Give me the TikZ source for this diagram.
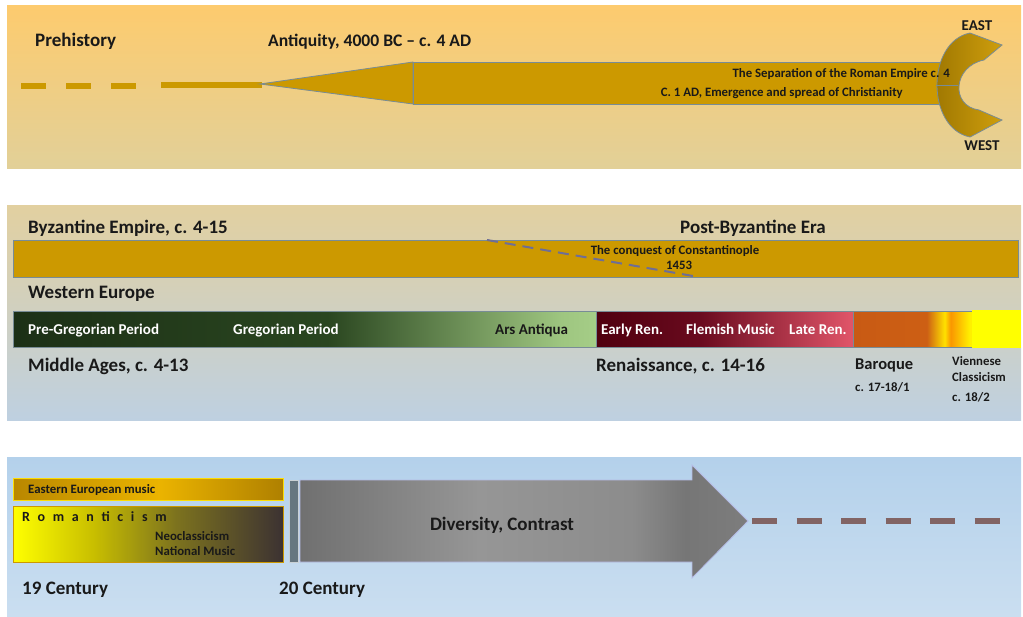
\documentclass[tikz,border=0pt]{standalone}
\usepackage{fontspec}
\setmainfont{Carlito}
\usepackage{tikz}
\usetikzlibrary{calc}
\definecolor{goldbar}{RGB}{204,153,0}
\definecolor{rimgray}{RGB}{120,140,150}
\definecolor{inkdark}{RGB}{25,25,25}
\definecolor{dashbrown}{RGB}{130,100,100}
\definecolor{conqdash}{RGB}{110,110,150}
\definecolor{paneltopa}{RGB}{253,203,110}
\definecolor{panelbota}{RGB}{226,208,152}
\definecolor{paneltopb}{RGB}{226,208,160}
\definecolor{panelbotb}{RGB}{190,208,225}
\definecolor{paneltopc}{RGB}{180,209,235}
\definecolor{panelbotc}{RGB}{202,222,240}
\definecolor{brightyel}{RGB}{255,255,0}
\pgfdeclarehorizontalshading{greenbar}{100bp}{color(0bp)=(rgb,255:red,28;green,48;blue,22); color(25bp)=(rgb,255:red,28;green,48;blue,22); color(52bp)=(rgb,255:red,42;green,70;blue,32); color(72bp)=(rgb,255:red,158;green,198;blue,128); color(75bp)=(rgb,255:red,165;green,205;blue,135); color(100bp)=(rgb,255:red,165;green,205;blue,135)}
\pgfdeclarehorizontalshading{renbar}{100bp}{color(0bp)=(rgb,255:red,80;green,0;blue,15); color(25bp)=(rgb,255:red,80;green,0;blue,15); color(45bp)=(rgb,255:red,105;green,10;blue,30); color(75bp)=(rgb,255:red,225;green,85;blue,105); color(100bp)=(rgb,255:red,225;green,85;blue,105)}
\pgfdeclarehorizontalshading{barobar}{100bp}{color(0bp)=(rgb,255:red,200;green,90;blue,20); color(25bp)=(rgb,255:red,200;green,90;blue,20); color(56bp)=(rgb,255:red,205;green,95;blue,20); color(63.5bp)=(rgb,255:red,255;green,225;blue,0); color(66bp)=(rgb,255:red,250;green,150;blue,0); color(74bp)=(rgb,255:red,255;green,240;blue,0); color(75bp)=(rgb,255:red,255;green,240;blue,0); color(100bp)=(rgb,255:red,255;green,240;blue,0)}
\pgfdeclarehorizontalshading{eastbar}{100bp}{color(0bp)=(rgb,255:red,185;green,135;blue,0); color(25bp)=(rgb,255:red,185;green,135;blue,0); color(52bp)=(rgb,255:red,235;green,180;blue,0); color(75bp)=(rgb,255:red,175;green,128;blue,0); color(100bp)=(rgb,255:red,175;green,128;blue,0)}
\pgfdeclarehorizontalshading{romabar}{100bp}{color(0bp)=(rgb,255:red,255;green,255;blue,0); color(25bp)=(rgb,255:red,255;green,255;blue,0); color(40bp)=(rgb,255:red,200;green,190;blue,0); color(55bp)=(rgb,255:red,125;green,115;blue,30); color(75bp)=(rgb,255:red,60;green,50;blue,50); color(100bp)=(rgb,255:red,60;green,50;blue,50)}
\pgfdeclarehorizontalshading{greyarrow}{100bp}{color(0bp)=(rgb,255:red,112;green,112;blue,112); color(25bp)=(rgb,255:red,112;green,112;blue,112); color(45bp)=(rgb,255:red,150;green,150;blue,150); color(62bp)=(rgb,255:red,140;green,140;blue,140); color(68bp)=(rgb,255:red,118;green,118;blue,118); color(75bp)=(rgb,255:red,125;green,125;blue,125); color(100bp)=(rgb,255:red,125;green,125;blue,125)}

\begin{document}
\begin{tikzpicture}[x=1pt,y=-1pt,
 hd/.style={font=\fontsize{19}{21}\selectfont\bfseries,text=inkdark,inner sep=0pt},
 bt/.style={font=\fontsize{15}{17}\selectfont\bfseries,inner sep=0pt},
 md/.style={font=\fontsize{12.8}{14}\selectfont\bfseries,text=inkdark,inner sep=0pt},
 sm/.style={font=\fontsize{12.8}{14}\selectfont\bfseries,text=inkdark,inner sep=0pt},
 rim/.style={draw=rimgray,line width=.8pt},
 thick dash/.style={line width=6pt,dash pattern=on 25pt off 20pt}]
\useasboundingbox (0,0) rectangle (1023,616);
% three panels
\shade[top color=paneltopa,bottom color=panelbota] (7,5) rectangle (1021,168);
\shade[top color=paneltopb,bottom color=panelbotb] (7,205) rectangle (1021,420);
\shade[top color=paneltopc,bottom color=panelbotc] (7,457) rectangle (1021,616);

% antiquity
\draw[goldbar,thick dash] (21,85.5) -- (140,85.5);
\draw[goldbar,line width=6pt] (161,85) -- (262,85);
\filldraw[fill=goldbar,rim] (260,84) -- (413,62) -- (413,104) -- cycle;
\filldraw[fill=goldbar,rim] (413,62) rectangle (942,104);
\shade[left color=goldbar!75!black,right color=goldbar!95!white,draw=rimgray,line width=.8pt]
 (970,33) -- (1002,45) -- (984,60) .. controls (953,66) and (950,106) .. (979,110)
 -- (1002,120) -- (970,137) .. controls (926,128) and (926,42) .. (970,33) -- cycle;
\draw[rim] (936,85) -- (958,85);
\node[hd,anchor=base west] (prehist) at (35,46) {Prehistory};
\node[hd,font=\fontsize{17.6}{20}\selectfont\bfseries,anchor=base west] (antiq) at (268,46) {Antiquity, 4000 BC -- c. 4 AD};
\node[md,anchor=base east] (sep) at (950,77.5) {The Separation of the Roman Empire c. 4};
\node[md,anchor=base east] (christ) at (903,96.5) {C. 1 AD, Emergence and spread of Christianity};
\node[bt,text=inkdark,anchor=base] (east) at (977,30) {EAST};
\node[bt,text=inkdark,anchor=base] (west) at (982,150) {WEST};

% middle ages to classicism
\filldraw[fill=goldbar,rim] (13,240) rectangle (1018,277);
\coordinate (cqa) at (487,240);
\coordinate (cqb) at (693,276);
\draw[conqdash,line width=2pt,dash pattern=on 11pt off 7pt] (cqa) -- (cqb);
\node[hd,anchor=base west] (byz) at (28,233) {Byzantine Empire, c. 4-15};
\node[hd,anchor=base] (postbyz) at (753,233) {Post-Byzantine Era};
\node[sm,anchor=base] (conq) at (675,254) {The conquest of Constantinople};
\node[sm,anchor=base] (conqyr) at (679,269.5) {1453};
\node[hd,anchor=base west] (weur) at (28,298) {Western Europe};
\shade[shading=greenbar] (13,311) rectangle (596,347);
\shade[shading=renbar] (596,311) rectangle (853,347);
\shade[shading=barobar] (853,311) rectangle (972,347);
\draw[rim] (13,311) rectangle (972,347);
\draw[rim] (596,311) -- (596,347) (853,311) -- (853,347);
\fill[brightyel] (972,310) rectangle (1021,348);
\node[bt,text=white,anchor=base west] (pregreg) at (28,334) {Pre-Gregorian Period};
\node[bt,text=white,anchor=base west] (greg) at (233,334) {Gregorian Period};
\node[bt,text=inkdark,anchor=base west] (arsant) at (495,334) {Ars Antiqua};
\node[bt,text=white,anchor=base west] (earlyren) at (601,334) {Early Ren.};
\node[bt,text=white,anchor=base west] (flemish) at (686,334) {Flemish Music};
\node[bt,text=white,anchor=base west] (lateren) at (789,334) {Late Ren.};
\node[hd,anchor=base west] (midages) at (28,371) {Middle Ages, c. 4-13};
\node[hd,anchor=base west] (renais) at (596,371) {Renaissance, c. 14-16};
\node[bt,font=\fontsize{16.5}{18}\selectfont\bfseries,text=inkdark,anchor=base west] (baroque) at (855,369.5) {Baroque};
\node[sm,anchor=base west] (barodate) at (855,391) {c. 17-18/1};
\node[sm,anchor=base west] (vienna) at (952,365) {Viennese};
\node[sm,anchor=base west] (vienclass) at (952,381.5) {Classicism};
\node[sm,anchor=base west] (viendate) at (952,401) {c. 18/2};

% 19th and 20th century
\shade[shading=eastbar,draw=yellow!80!orange,line width=.8pt] (13,478) rectangle (283,500);
\shade[shading=romabar,draw=goldbar,line width=.8pt] (13,506) rectangle (283,562);
\filldraw[fill=rimgray!85!black,draw=rimgray!40!white,line width=.8pt] (289,480) rectangle (298,562);
\shade[shading=greyarrow,draw=rimgray!60!blue!40!white,line width=.8pt]
 (300,480) -- (692,480) -- (692,465) -- (748,521) -- (692,578) -- (692,562) -- (300,562) -- cycle;
\draw[dashbrown,line width=6pt,dash pattern=on 25pt off 19.5pt] (752,521) -- (1001,521);
\node[sm,anchor=base west] (eastmus) at (28,493) {Eastern European music};
\node[bt,font=\fontsize{14}{16}\selectfont\bfseries,text=inkdark,anchor=base west] (romant) at (22,521.5) {\addfontfeature{LetterSpace=55}Romanticism};
\node[sm,anchor=base west] (neoclass) at (155,540) {Neoclassicism};
\node[sm,anchor=base west] (natmus) at (155,555) {National Music};
\node[hd,anchor=base] (divers) at (502,530) {Diversity, Contrast};
\node[hd,anchor=base west] (cent19) at (22,594) {19 Century};
\node[hd,anchor=base west] (cent20) at (279,594) {20 Century};
\end{tikzpicture}
\end{document}
